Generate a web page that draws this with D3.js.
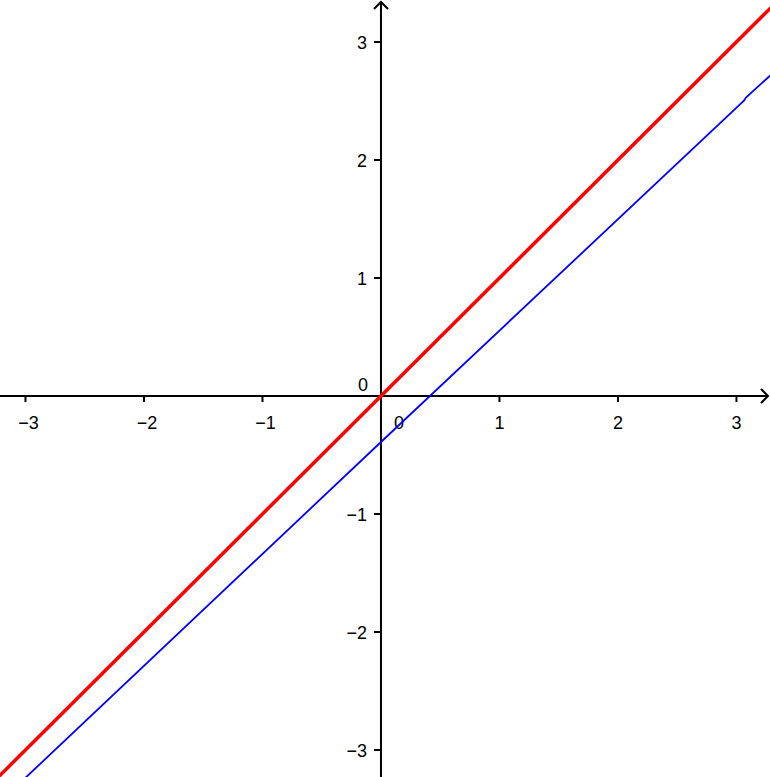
<!DOCTYPE html>
<html>
<head>
<meta charset="utf-8">
<script src="https://cdn.jsdelivr.net/npm/d3@7"></script>
<style>
  body { margin: 0; background: #fff; }
  svg text { font-family: "Liberation Sans", Arial, sans-serif; font-size: 18px; fill: #000; }
</style>
</head>
<body>
<div id="vis"></div>
<script>
// visible window in graph units
const xExtent = [-3.215, 3.283];
const yExtent = [-3.229, 3.356];
const tickValues = [-3, -2, -1, 1, 2, 3];

// red line y = x, read at both edges
const redPoints = [[-3.3, -3.3], [3.3, 3.3]];
// blue line (small jog near x = 3.07)
const bluePoints = [[-3.3, -3.52], [0, -0.39], [3.05, 2.49], [3.065, 2.505], [3.08, 2.53], [3.3, 2.73]];

const width = 770, height = 777;

const svg = d3.select("#vis").append("svg")
  .attr("width", width)
  .attr("height", height);

const x = d3.scaleLinear().domain(xExtent).range([0, width]);
const y = d3.scaleLinear().domain(yExtent).range([height, 0]);

const x0 = x(0), y0 = y(0);

// axes
svg.append("line")
  .attr("x1", 0).attr("x2", width - 2)
  .attr("y1", y0).attr("y2", y0)
  .attr("stroke", "#000").attr("stroke-width", 2);
svg.append("path")
  .attr("d", `M${width - 9},${y0 - 7}L${width - 2},${y0}L${width - 9},${y0 + 7}`)
  .attr("fill", "none").attr("stroke", "#000").attr("stroke-width", 2);

svg.append("line")
  .attr("x1", x0).attr("x2", x0)
  .attr("y1", height).attr("y2", 2)
  .attr("stroke", "#000").attr("stroke-width", 2);
svg.append("path")
  .attr("d", `M${x0 - 7},${9}L${x0},${2}L${x0 + 7},${9}`)
  .attr("fill", "none").attr("stroke", "#000").attr("stroke-width", 2);

// x ticks
const fmt = d => d < 0 ? "\u2212" + Math.abs(d) : String(d);
svg.selectAll(".xt").data(tickValues).enter().append("line")
  .attr("x1", d => x(d)).attr("x2", d => x(d))
  .attr("y1", y0).attr("y2", y0 + 6)
  .attr("stroke", "#000").attr("stroke-width", 2);
svg.selectAll(".xl").data(tickValues).enter().append("text")
  .attr("x", d => x(d) + (d < 0 ? 3 : 0))
  .attr("y", y0 + 33)
  .attr("text-anchor", "middle")
  .text(fmt);

// y ticks
svg.selectAll(".yt").data(tickValues).enter().append("line")
  .attr("x1", x0 - 7).attr("x2", x0)
  .attr("y1", d => y(d)).attr("y2", d => y(d))
  .attr("stroke", "#000").attr("stroke-width", 2);
svg.selectAll(".yl").data(tickValues).enter().append("text")
  .attr("x", x0 - 14)
  .attr("y", d => y(d) + 7)
  .attr("text-anchor", "end")
  .text(fmt);

// origin labels
svg.append("text").attr("x", x0 - 23).attr("y", y0 - 5).text("0");
svg.append("text").attr("x", x0 + 13).attr("y", y0 + 33).text("0");

const line = d3.line().x(d => x(d[0])).y(d => y(d[1]));

svg.append("path")
  .datum(bluePoints)
  .attr("d", line)
  .attr("fill", "none")
  .attr("stroke", "#0000ff")
  .attr("stroke-width", 1.8);

svg.append("path")
  .datum(redPoints)
  .attr("d", line)
  .attr("fill", "none")
  .attr("stroke", "#ff0000")
  .attr("stroke-width", 3.5);
</script>
</body>
</html>
